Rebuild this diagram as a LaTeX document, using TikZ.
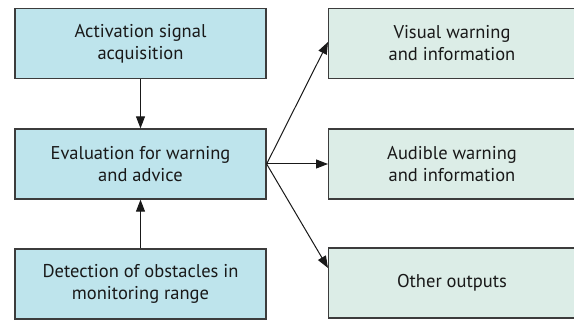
\documentclass[tikz,border=0pt]{standalone}
\usepackage{fontspec}
\setmainfont{PT Sans}
\usetikzlibrary{arrows.meta}
\definecolor{inbox}{RGB}{190,228,236}
\definecolor{outbox}{RGB}{220,237,231}
\definecolor{edge}{RGB}{60,60,60}
\definecolor{ink}{RGB}{25,25,25}
\begin{document}
\begin{tikzpicture}[x=1pt,y=-1pt,
  label text/.style={text=ink,align=center,font=\fontsize{18.5}{22}\selectfont},
  box/.style={draw=edge,line width=1.3pt,label text,inner sep=0pt},
  inb/.style={box,fill=inbox,minimum width=251pt,minimum height=70pt},
  outb/.style={box,fill=outbox,minimum width=262pt,minimum height=70pt},
  conn/.style={draw=ink,line width=1pt,-{Triangle[length=12pt,width=9pt]}}]
\useasboundingbox (0,0) rectangle (574,321);
\begin{scope}
\clip (0,0) rectangle (574,321);
% input side
\node[inb] (acq) at (140.5,43.5) {Activation signal\\acquisition};
\node[inb] (eval) at (140.5,164) {Evaluation for warning\\and advice};
\node[inb] (det) at (140.5,284) {Detection of obstacles in\\monitoring range};
% output side (runs past the right margin)
\node[outb,anchor=west] (vis) at (328,43.5) {};
\node[outb,anchor=west] (aud) at (328,164) {};
\node[outb,anchor=west] (oth) at (328,283) {};
\end{scope}
\node[label text] (vist) at (452,43.5) {Visual warning\\and information};
\node[label text] (audt) at (452,164) {Audible warning\\and information};
\node[label text] (otht) at (452,283) {Other outputs};
% connectors
\draw[conn] (acq) -- (eval);
\draw[conn] (det) -- (eval);
\draw[conn] (eval.east) -- ([yshift=1.5pt]vis.west);
\draw[conn] (eval.east) -- (aud.west);
\draw[conn] (eval.east) -- ([yshift=15pt]oth.west);
\end{tikzpicture}
\end{document}
